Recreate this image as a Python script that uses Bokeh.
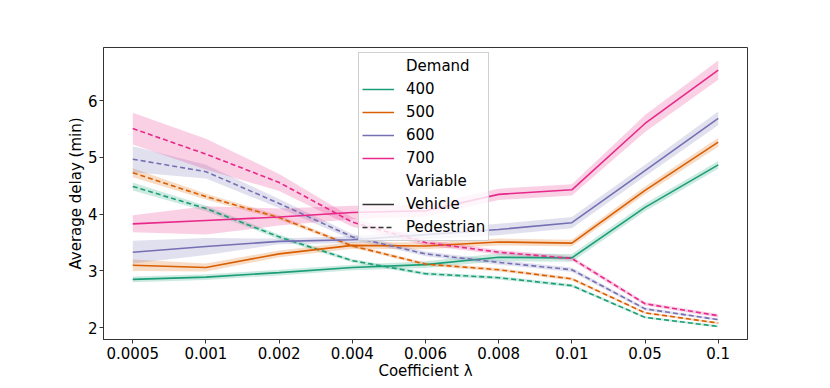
from bokeh.plotting import figure
from bokeh.models import Range1d, FixedTicker, Legend, LegendItem
from bokeh.embed import file_html
from bokeh.resources import INLINE

categories = ["0.0005", "0.001", "0.002", "0.004", "0.006", "0.008", "0.01", "0.05", "0.1"]
demands = ["400", "500", "600", "700"]
colors = ["#1b9e77", "#d95f02", "#7570b3", "#e7298a"]

vehicle_400 = [2.85, 2.89, 2.97, 3.06, 3.11, 3.24, 3.23, 4.12, 4.87]
vehicle_500 = [3.10, 3.06, 3.30, 3.45, 3.44, 3.51, 3.49, 4.42, 5.27]
vehicle_600 = [3.33, 3.43, 3.52, 3.55, 3.64, 3.73, 3.85, 4.77, 5.69]
vehicle_700 = [3.83, 3.89, 3.95, 4.03, 4.06, 4.35, 4.43, 5.60, 6.54]

pedestrian_400 = [4.49, 4.10, 3.60, 3.18, 2.95, 2.88, 2.74, 2.18, 2.02]
pedestrian_500 = [4.73, 4.31, 3.94, 3.44, 3.12, 3.02, 2.86, 2.26, 2.08]
pedestrian_600 = [4.97, 4.75, 4.19, 3.60, 3.30, 3.15, 3.02, 2.33, 2.14]
pedestrian_700 = [5.51, 5.06, 4.56, 3.86, 3.50, 3.33, 3.22, 2.42, 2.21]

vehicle_err_400 = [0.05, 0.05, 0.05, 0.05, 0.06, 0.07, 0.07, 0.07, 0.07]
vehicle_err_500 = [0.10, 0.07, 0.06, 0.06, 0.06, 0.06, 0.06, 0.07, 0.08]
vehicle_err_600 = [0.20, 0.15, 0.05, 0.06, 0.08, 0.10, 0.10, 0.10, 0.12]
vehicle_err_700 = [0.15, 0.25, 0.15, 0.12, 0.10, 0.10, 0.10, 0.15, 0.17]

pedestrian_err_400 = [0.07, 0.05, 0.04, 0.03, 0.03, 0.03, 0.03, 0.02, 0.02]
pedestrian_err_500 = [0.08, 0.05, 0.04, 0.03, 0.03, 0.03, 0.03, 0.02, 0.02]
pedestrian_err_600 = [0.23, 0.12, 0.08, 0.05, 0.04, 0.04, 0.04, 0.03, 0.02]
pedestrian_err_700 = [0.28, 0.27, 0.15, 0.08, 0.05, 0.04, 0.04, 0.03, 0.03]

y_ticks = [2, 3, 4, 5, 6]

vehicle = [vehicle_400, vehicle_500, vehicle_600, vehicle_700]
pedestrian = [pedestrian_400, pedestrian_500, pedestrian_600, pedestrian_700]
vehicle_err = [vehicle_err_400, vehicle_err_500, vehicle_err_600, vehicle_err_700]
pedestrian_err = [pedestrian_err_400, pedestrian_err_500, pedestrian_err_600, pedestrian_err_700]

FONT = "DejaVu Sans"
FS = "15px"
DASH = "5 3"
LW = 1.6

x = list(range(len(categories)))

p = figure(frame_width=644, frame_height=292, output_backend="svg", toolbar_location=None,
           x_range=Range1d(-0.4, len(categories) - 1 + 0.4),
           y_range=Range1d(1.79, 6.94),
           min_border_left=103, min_border_right=76, min_border_top=47, min_border_bottom=40)

p.xgrid.grid_line_color = None
p.ygrid.grid_line_color = None
p.outline_line_color = "#333333"
p.outline_line_width = 1
p.background_fill_color = "white"
p.border_fill_color = "white"

p.xaxis.ticker = FixedTicker(ticks=x)
p.xaxis.major_label_overrides = {i: c for i, c in enumerate(categories)}
p.yaxis.ticker = FixedTicker(ticks=y_ticks)
for ax in (p.xaxis[0], p.yaxis[0]):
    ax.axis_line_color = "#333333"
    ax.major_tick_line_color = "#333333"
    ax.major_tick_out = 4
    ax.major_tick_in = 0
    ax.minor_tick_line_color = None
    ax.major_label_text_font = FONT
    ax.major_label_text_font_size = FS
    ax.major_label_text_color = "black"
    ax.axis_label_text_font = FONT
    ax.axis_label_text_font_size = FS
    ax.axis_label_text_font_style = "normal"
    ax.axis_label_text_color = "black"
p.xaxis.major_label_standoff = 3
p.yaxis.major_label_standoff = 2
p.xaxis.axis_label = "Coefficient λ"
p.yaxis.axis_label = "Average delay (min)"
p.xaxis.axis_label_standoff = 0
p.yaxis.axis_label_standoff = 0

vehicle_renderers = []
for i in range(4):
    for means, errs in ((vehicle[i], vehicle_err[i]), (pedestrian[i], pedestrian_err[i])):
        lo = [m - e for m, e in zip(means, errs)]
        hi = [m + e for m, e in zip(means, errs)]
        p.varea(x=x, y1=lo, y2=hi, fill_color=colors[i], fill_alpha=0.22)

for i in range(4):
    r = p.line(x=x, y=vehicle[i], line_color=colors[i], line_width=LW)
    vehicle_renderers.append(r)
    p.line(x=x, y=pedestrian[i], line_color=colors[i], line_width=LW, line_dash=DASH)

nan = float("nan")
blank1 = p.line(x=[nan], y=[nan], line_alpha=0)
blank2 = p.line(x=[nan], y=[nan], line_alpha=0)
veh_key = p.line(x=[nan], y=[nan], line_color="#333333", line_width=LW)
ped_key = p.line(x=[nan], y=[nan], line_color="#333333", line_width=LW, line_dash=DASH)

items = [LegendItem(label="Demand", renderers=[blank1])]
for d, r in zip(demands, vehicle_renderers):
    items.append(LegendItem(label=d, renderers=[r]))
items.append(LegendItem(label="Variable", renderers=[blank2]))
items.append(LegendItem(label="Vehicle", renderers=[veh_key]))
items.append(LegendItem(label="Pedestrian", renderers=[ped_key]))

legend = Legend(items=items, location=(255, 98), orientation="vertical",
                label_text_font=FONT, label_text_font_size=FS, label_text_color="black",
                glyph_width=32, glyph_height=20, label_height=20, spacing=3,
                label_standoff=12, padding=3, margin=0,
                border_line_color="#d0d0d0", border_line_width=1, border_line_alpha=1,
                background_fill_color="white", background_fill_alpha=0.8)
p.add_layout(legend, "center")

open("out.html", "w").write(file_html(p, INLINE))
